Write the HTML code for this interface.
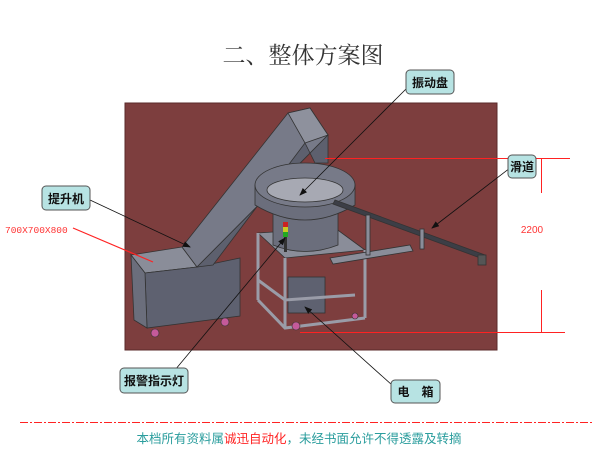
<!DOCTYPE html>
<html><head><meta charset="utf-8"><style>
html,body{margin:0;padding:0;background:#fff;width:600px;height:450px;overflow:hidden}
svg{display:block}
.lb{font-family:"Liberation Sans","Noto Sans CJK SC",sans-serif;font-weight:bold;font-size:12px;fill:#111}
</style></head><body>
<svg width="600" height="450" viewBox="0 0 600 450" xmlns="http://www.w3.org/2000/svg">
<defs><marker id="ah" markerWidth="8" markerHeight="6" refX="7" refY="3" orient="auto" markerUnits="userSpaceOnUse"><path d="M0,0 L8,3 L0,6 Z" fill="#111"/></marker></defs>
<text x="303" y="63" text-anchor="middle" font-family="'Liberation Serif','Noto Serif CJK SC',serif" font-size="23" fill="#333">二、整体方案图</text>
<rect x="125" y="103" width="372" height="247" fill="#7d3e3e" stroke="#5a2a2a"/>
<g stroke="#333" stroke-width="0.8">
<polygon points="131,255 182,247 197,267 145,273" fill="#8a8d99"/>
<polygon points="197,267 240,258 240,316 147,328 145,273" fill="#5e6170"/>
<polygon points="131,255 145,273 147,328 134,320" fill="#6b6e7c"/>
<polygon points="182,247 288,113 310,108 328,135 197,267" fill="#777a88"/>
<polygon points="197,267 328,135 328,163 315,163 305,143 213,265" fill="#5d606e"/>
<polygon points="288,113 310,108 328,135 305,143" fill="#8e919d"/>
<polygon points="258,233 335,228 365,250 285,258" fill="#8a8d99"/>
<rect x="288" y="277" width="37" height="36" fill="#5e6170"/>
<path d="M258,233 V300 M285,258 V328 M365,250 V318 M335,228 V240 M258,300 L285,328 L365,318 M258,280 L285,300 L355,295" fill="none" stroke="#9a9ca8" stroke-width="3"/>
<path d="M273,200 V245 Q305,258 338,245 V200 Z" fill="#6b6e7c"/>
<path d="M255,185 V205 Q305,235 355,205 V185 Z" fill="#6b6e7c"/>
<ellipse cx="305" cy="185" rx="50" ry="22" fill="#777a88"/>
<ellipse cx="305" cy="190" rx="38" ry="12" fill="#a7a9b3"/>
<polygon points="335,200 485,255 483,259 333,204" fill="#3c3e46"/>
<polygon points="330,258 410,245 413,251 333,264" fill="#8a8d99"/>
<rect x="366" y="215" width="4" height="40" fill="#8a8d99"/>
<rect x="420" y="229" width="4" height="20" fill="#8a8d99"/>
<rect x="478" y="255" width="8" height="10" fill="#555"/>
</g>
<rect x="283" y="222" width="5" height="5" fill="#c22"/><rect x="283" y="227" width="5" height="5" fill="#cc2"/><rect x="283" y="232" width="5" height="5" fill="#2a2"/>
<rect x="284" y="237" width="3" height="15" fill="#333"/>
<g fill="#c45a9a" stroke="#333" stroke-width="0.6">
<circle cx="155" cy="333" r="4"/><circle cx="225" cy="322" r="4"/><circle cx="296" cy="326" r="4"/><circle cx="355" cy="316" r="3"/>
</g>
<g stroke="#f22" stroke-width="1" fill="none">
<path d="M325,158.5 H570 M300,332.5 H565 M541.5,158 V193 M541.5,290 V332"/>
<path d="M73,228 L153,262" stroke-width="1.2"/>
</g>
<text x="532" y="233" text-anchor="middle" font-family="'Liberation Sans',sans-serif" font-size="10" fill="#f33">2200</text>
<text x="5" y="233" font-family="'Liberation Mono',monospace" font-size="9.5" fill="#f33">700X700X800</text>
<g stroke="#111" stroke-width="0.8" marker-end="url(#ah)">
<line x1="90" y1="200" x2="190" y2="247"/>
<line x1="410" y1="85" x2="300" y2="195"/>
<line x1="510" y1="168" x2="432" y2="228"/>
<line x1="175" y1="370" x2="285" y2="238"/>
<line x1="392" y1="385" x2="305" y2="307"/>
</g>
<g fill="#b7e3e3" stroke="#555" stroke-width="1">
<rect x="42" y="186" width="48" height="24" rx="4"/>
<rect x="406" y="70" width="48" height="24" rx="4"/>
<rect x="508" y="155" width="28" height="23" rx="4"/>
<rect x="120" y="368" width="68" height="25" rx="4"/>
<rect x="391" y="380" width="49" height="23" rx="4"/>
</g>
<text class="lb" x="66" y="203" text-anchor="middle">提升机</text>
<text class="lb" x="430" y="87" text-anchor="middle">振动盘</text>
<text class="lb" x="522" y="171" text-anchor="middle">滑道</text>
<text class="lb" x="154" y="385" text-anchor="middle">报警指示灯</text>
<text class="lb" x="415.5" y="396" text-anchor="middle">电　箱</text>
<line x1="20" y1="422.5" x2="592" y2="422.5" stroke="#f22" stroke-width="1" stroke-dasharray="8,2,2,2"/>
<text x="299" y="443" text-anchor="middle" font-family="'Liberation Sans','Noto Sans CJK SC',sans-serif" font-size="12.5" fill="#2a9d9d">本档所有资料属<tspan fill="#f22">诚迅自动化</tspan>，未经书面允许不得透露及转摘</text>
</svg>
</body></html>
